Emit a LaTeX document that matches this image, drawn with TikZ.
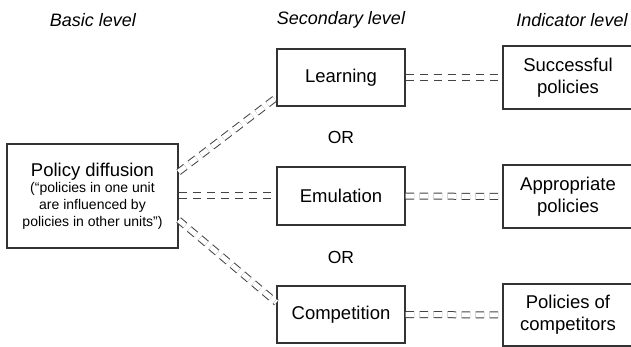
\documentclass[tikz,border=0pt]{standalone}
\usepackage{fontspec}
\setmainfont{Liberation Sans}
\usetikzlibrary{calc}
\definecolor{ink}{HTML}{333333}
\definecolor{dash}{HTML}{444444}
\tikzset{
  box/.style={draw=ink, line width=1.2pt, inner sep=0pt, align=center, text=black},
  secbox/.style={box, minimum width=128pt, minimum height=57pt, font=\fontsize{18.5}{21}\selectfont},
  indbox/.style={box, minimum width=130pt, minimum height=63pt, font=\fontsize{18.5}{22}\selectfont},
  header/.style={font=\itshape\fontsize{18}{21}\selectfont, text=black},
  ortext/.style={font=\fontsize{17.5}{20}\selectfont, text=black},
  dd/.style={draw=dash, line width=1pt, double=white, double distance=5pt, dash pattern=on 8.5pt off 5.5pt}
}
\begin{document}
\begin{tikzpicture}[x=1pt,y=-1pt]
\useasboundingbox (0,0) rectangle (631,347);
\clip (0,0) rectangle (631,347);
\fill[white] (0,0) rectangle (631,347);
% headers
\node[header] (h1) at (93,20) {Basic level};
\node[header] (h2) at (341,20) {Secondary level};
\node[header] (h3) at (572,20) {Indicator level};
% basic
\node[box, minimum width=171pt, minimum height=104pt, font=\fontsize{14}{16.6}\selectfont] (pd) at (92.5,196)
  {{\fontsize{18.5}{18}\selectfont Policy diffusion}\\[0pt](“policies in one unit\\are influenced by\\policies in other units”)};
% secondary
\node[secbox] (learn) at (341,77.5) {Learning};
\node[secbox, minimum height=58pt] (emul) at (341,196) {Emulation};
\node[secbox] (comp) at (341,314.5) {Competition};
\node[ortext] (or1) at (341,137) {OR};
\node[ortext] (or2) at (341,257) {OR};
% indicator
\node[indbox] (succ) at (568,77.5) {Successful\\policies};
\node[indbox] (appr) at (568,196.5) {Appropriate\\policies};
\node[indbox, minimum height=62pt] (cpt) at (568,315) {Policies of\\competitors};
% connectors
\coordinate (a1) at ($(pd.east)+(0,-24)$);
\coordinate (b1) at ($(learn.west)+(0,20)$);
\coordinate (a3) at ($(pd.east)+(0,24)$);
\coordinate (b3) at ($(comp.west)+(0,-12)$);
\draw[dd] (a1) -- (b1);
\draw[dd] (pd.east) -- (emul.west);
\draw[dd] (a3) -- (b3);
\draw[dd] (learn.east) -- (succ.west);
\draw[dd] (emul.east) -- (appr.west);
\draw[dd] (comp.east) -- (cpt.west);
\end{tikzpicture}
\end{document}
